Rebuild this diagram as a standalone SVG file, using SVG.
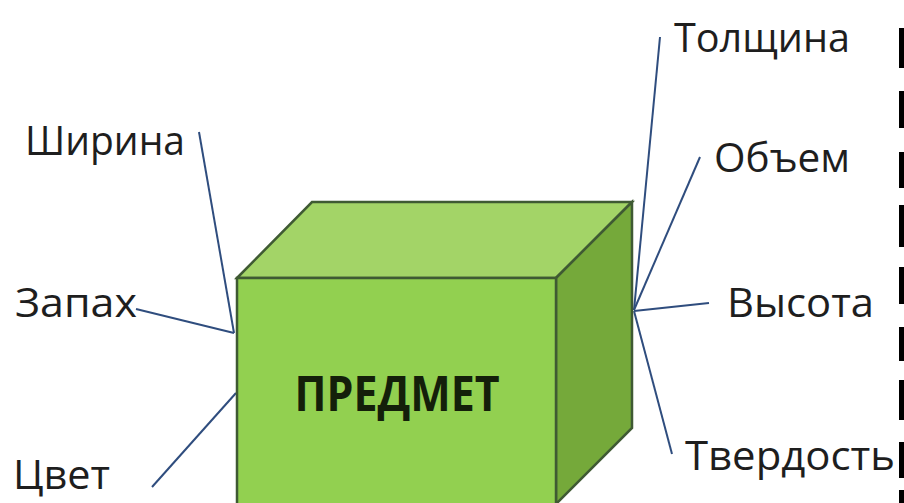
<svg xmlns="http://www.w3.org/2000/svg" width="904" height="503" viewBox="0 0 904 503">
<style>
.lbl{font-family:"Open Sans","DejaVu Sans",sans-serif;font-size:41px;fill:#1e1e1e}
.ttl{font-family:"Open Sans","DejaVu Sans",sans-serif;font-size:48px;font-weight:bold;fill:#141f0a}
.cn{stroke:#2f4d7e;stroke-width:2;fill:none}
.edge{stroke:#3f5a33;stroke-width:2.5;stroke-linejoin:miter}
.dash{fill:#000}
</style>
<rect width="904" height="503" fill="#ffffff"/>
<g id="connectors">
<line class="cn" x1="199" y1="132" x2="234" y2="333"/>
<line class="cn" x1="136" y1="309" x2="234" y2="333"/>
<line class="cn" x1="152" y1="487" x2="236" y2="393"/>
<line class="cn" x1="660" y1="37" x2="634" y2="310"/>
<line class="cn" x1="700" y1="157" x2="634" y2="310"/>
<line class="cn" x1="709" y1="303" x2="634" y2="311"/>
<line class="cn" x1="634" y1="311" x2="672" y2="454"/>
</g>
<g id="predmet">
<polygon class="edge" points="237,278 312,202 632,202 556,278" fill="#a3d467"/>
<polygon class="edge" points="556,278 632,202 632,428 556,504" fill="#75a93a"/>
<rect class="edge" x="237" y="278" width="319" height="235" fill="#92d050"/>
<text class="ttl" x="397" y="411" text-anchor="middle" textLength="205" lengthAdjust="spacingAndGlyphs">ПРЕДМЕТ</text>
</g>
<g id="shirina"><text class="lbl" x="25" y="155" textLength="160" lengthAdjust="spacingAndGlyphs">Ширина</text></g>
<g id="zapakh"><text class="lbl" x="15" y="317" textLength="122" lengthAdjust="spacingAndGlyphs">Запах</text></g>
<g id="tsvet"><text class="lbl" x="13" y="489" font-size="39" textLength="97" lengthAdjust="spacingAndGlyphs">Цвет</text></g>
<g id="tolshchina"><text class="lbl" x="674" y="52" textLength="176" lengthAdjust="spacingAndGlyphs">Толщина</text></g>
<g id="obem"><text class="lbl" x="714" y="172" textLength="136" lengthAdjust="spacingAndGlyphs">Объем</text></g>
<g id="vysota"><text class="lbl" x="727" y="317" textLength="147" lengthAdjust="spacingAndGlyphs">Высота</text></g>
<g id="tverdost"><text class="lbl" x="685" y="470" textLength="210" lengthAdjust="spacingAndGlyphs">Твердость</text></g>
<g id="edge-dashes">
<rect class="dash" x="899" y="28" width="5" height="40"/>
<rect class="dash" x="899" y="91" width="5" height="37"/>
<rect class="dash" x="899" y="152" width="5" height="36"/>
<rect class="dash" x="899" y="205" width="5" height="42"/>
<rect class="dash" x="899" y="267" width="5" height="37"/>
<rect class="dash" x="899" y="327" width="5" height="34"/>
<rect class="dash" x="899" y="380" width="5" height="40"/>
<rect class="dash" x="899" y="442" width="5" height="36"/>
<rect class="dash" x="899" y="490" width="5" height="13"/>
</g>
</svg>
